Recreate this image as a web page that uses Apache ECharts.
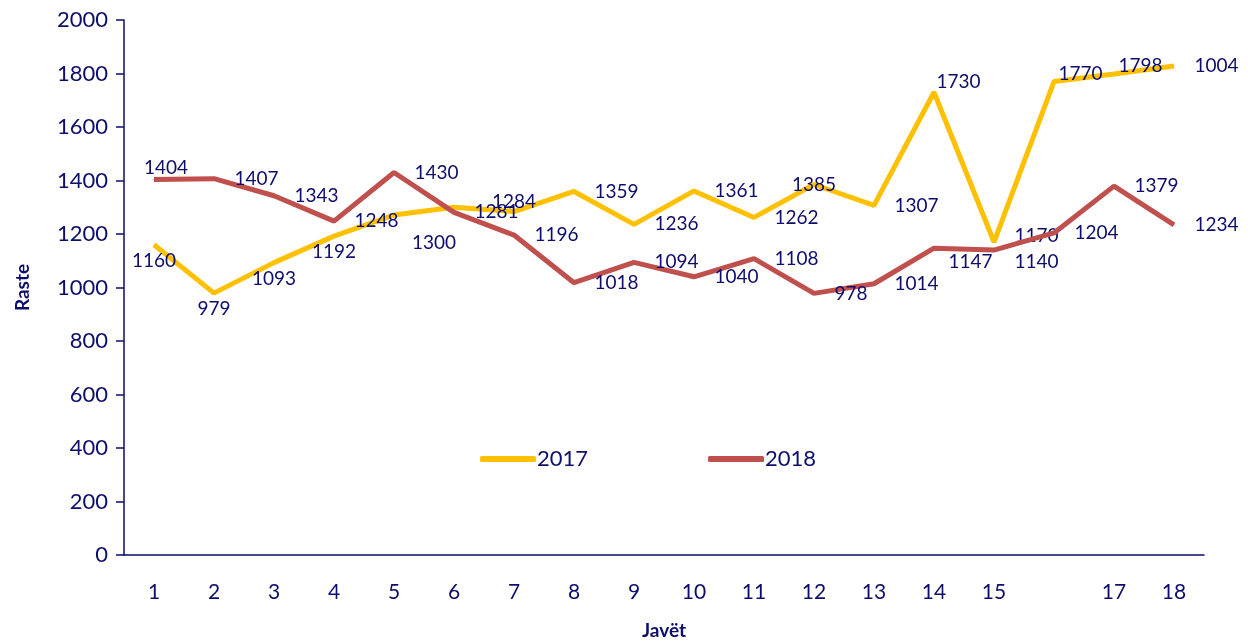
<!DOCTYPE html>
<html lang="sq">
<head>
    <meta charset="UTF-8">
    <title>Raste sipas javëve 2017-2018</title>
    <style>
        html,body{
            margin: 0;
            width: 100%;
            height: 100%;
            background: #fff;
        }
        #chartmain{
            width: 1248px;
            height: 641px;
        }
    </style>
</head>
<body>
<div id="chartmain"></div>
<script src="https://cdn.jsdelivr.net/npm/echarts@6/dist/echarts.min.js"></script>
<script type="text/javascript">
    // javët (java 16 pa etiketë në origjinal)
    var weeks = ['1','2','3','4','5','6','7','8','9','10','11','12','13','14','15','','17','18'];
    var yTicks = [0, 200, 400, 600, 800, 1000, 1200, 1400, 1600, 1800, 2000];

    var values2017 = [1160, 979, 1093, 1192, 1271, 1300, 1284, 1359, 1236, 1361, 1262, 1385, 1307, 1730, 1170, 1770, 1798, 1828];
    var labels2017 = ['1160','979','1093','1192','','1300','1284','1359','1236','1361','1262','1385','1307','1730','1170','1770','1798','1004'];

    var values2018 = [1404, 1407, 1343, 1248, 1430, 1281, 1196, 1018, 1094, 1040, 1108, 978, 1014, 1147, 1140, 1204, 1379, 1234];

    var navy = '#0d0d6b';
    var font = 'Lato, "Open Sans", sans-serif';

    function lbl2017(i){
        var l = {show: true, position: 'right', distance: 20, formatter: labels2017[i]};
        if (i < 4) { l.position = 'bottom'; l.distance = 6; }
        if (i === 5) { l.position = 'bottom'; l.offset = [-20, 6]; }
        if (i === 6) { l.position = 'top'; l.distance = 0; }
        if (i === 11) { l.position = 'inside'; }
        if (i === 13) { l.distance = 2; l.offset = [0, -10]; }
        if (i === 14) { l.offset = [0, -6]; }
        if (i === 15 || i === 16) { l.distance = 4; l.offset = [0, -8]; }
        return l;
    }
    function lbl2018(i){
        var l = {show: true, position: 'right', distance: 20};
        if (i === 0) { l.position = 'top'; l.distance = 2; l.offset = [12, 0]; }
        if (i === 13) { l.distance = 14; l.offset = [0, 14]; }
        if (i === 14) { l.offset = [0, 12]; }
        return l;
    }

    var data2017 = values2017.map(function(v, i){ return {value: v, label: lbl2017(i)}; });
    var data2018 = values2018.map(function(v, i){ return {value: v, label: lbl2018(i)}; });

    var option = {
        animation: false,
        textStyle: {fontFamily: font},
        grid: {left: 124, right: 44, top: 20, bottom: 86, outerBoundsMode: 'none', containLabel: false},
        legend: {
            data: ['2017', '2018'],
            left: 475,
            top: 443,
            itemGap: 120,
            itemWidth: 56,
            itemHeight: 6,
            icon: 'roundRect',
            textStyle: {color: navy, fontSize: 22, fontFamily: font, padding: [0, 0, 0, -4]}
        },
        xAxis: {
            type: 'category',
            data: weeks,
            name: 'Javët',
            nameLocation: 'middle',
            nameGap: 66,
            nameTextStyle: {color: navy, fontSize: 19, fontWeight: 'bold', fontFamily: font},
            axisLine: {lineStyle: {color: navy, width: 1.5}},
            axisTick: {length: 8, lineStyle: {color: navy, width: 1.5}},
            axisLabel: {color: navy, fontSize: 21, margin: 27, interval: 0, fontFamily: font}
        },
        yAxis: {
            type: 'value',
            min: yTicks[0],
            max: yTicks[yTicks.length - 1],
            interval: yTicks[1] - yTicks[0],
            name: 'Raste',
            nameLocation: 'middle',
            nameGap: 92,
            nameTextStyle: {color: navy, fontSize: 19, fontWeight: 'bold', fontFamily: font},
            axisLine: {show: true, lineStyle: {color: navy, width: 1.5}},
            axisTick: {show: true, length: 8, lineStyle: {color: navy, width: 1.5}},
            axisLabel: {color: navy, fontSize: 22, margin: 16, fontFamily: font, formatter: function(v){ return String(v); }},
            splitLine: {show: false}
        },
        series: [
            {
                name: '2017',
                type: 'line',
                data: data2017,
                symbol: 'circle',
                symbolSize: 1,
                itemStyle: {color: '#FFC000'},
                lineStyle: {color: '#FFC000', width: 5},
                label: {color: navy, fontSize: 19, fontFamily: font},
                z: 2
            },
            {
                name: '2018',
                type: 'line',
                data: data2018,
                symbol: 'circle',
                symbolSize: 1,
                itemStyle: {color: '#C0504D'},
                lineStyle: {color: '#C0504D', width: 5},
                label: {color: navy, fontSize: 19, fontFamily: font},
                z: 3
            }
        ]
    };

    var myChart = echarts.init(document.getElementById('chartmain'));
    myChart.setOption(option);
</script>
</body>
</html>
